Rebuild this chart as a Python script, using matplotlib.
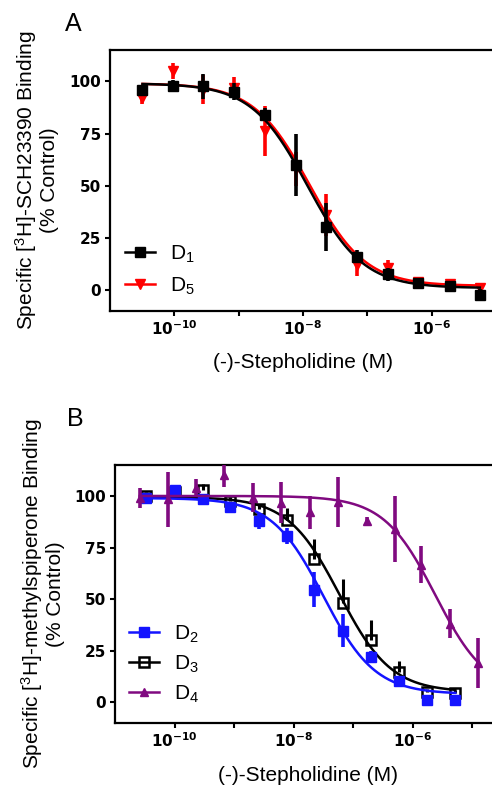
import matplotlib
matplotlib.use("Agg")
import matplotlib.pyplot as plt
import numpy as np
from matplotlib.ticker import FixedLocator, NullFormatter

# ---- data: panel A (D1 / D5, [3H]-SCH23390) ----
conc_a = [3.2e-11, 9.5e-11, 2.8e-10, 8.5e-10, 2.6e-9, 7.7e-9,
          2.3e-8, 6.9e-8, 2.1e-7, 6.2e-7, 1.9e-6, 5.6e-6]
d1_mean = [95.7, 97.7, 97.7, 95.0, 84.0, 60.0, 30.0, 16.0, 7.5, 3.5, 2.0, -2.4]
d1_err = [2.0, 3.0, 6.0, 4.0, 3.0, 15.0, 11.5, 3.0, 3.0, 2.0, 2.0, 3.0]
d5_mean = [92.0, 105.0, 96.0, 97.0, 76.0, 58.0, 36.0, 12.0, 10.5, 4.0, 3.0, 1.0]
d5_err = [3.0, 4.0, 7.0, 5.0, 12.0, 8.0, 10.0, 5.0, 4.0, 2.0, 2.0, 2.0]

# ---- data: panel B (D2 / D3 / D4, [3H]-methylspiperone) ----
conc_b = [3.3e-11, 1.0e-10, 3.0e-10, 8.7e-10, 2.6e-9, 7.8e-9,
          2.2e-8, 6.8e-8, 2.0e-7, 5.9e-7, 1.74e-6, 5.2e-6]
d2_mean = [99.2, 102.8, 98.7, 94.8, 87.8, 80.5, 54.5, 34.6, 22.0, 10.2, 1.2, 1.2]
d2_err = [2.0, 2.0, 2.0, 2.0, 4.0, 4.0, 8.5, 8.0, 3.0, 2.0, 1.5, 1.5]
d3_mean = [100.0, 102.0, 102.8, 97.6, 93.5, 88.3, 69.5, 48.0, 30.0, 14.6, 4.9, 4.4]
d3_err = [2.0, 2.0, 3.0, 2.0, 2.0, 6.0, 9.5, 12.0, 10.0, 5.5, 1.5, 1.5]
conc_d4 = [2.6e-11, 7.8e-11, 2.3e-10, 6.9e-10, 2.1e-9, 6.2e-9, 1.9e-8,
           5.6e-8, 1.7e-7, 5.0e-7, 1.4e-6, 4.2e-6, 1.26e-5]
d4_mean = [99.0, 98.4, 104.0, 110.0, 99.2, 96.8, 92.2, 97.0, 87.8, 84.0, 66.7, 38.2, 19.0]
d4_err = [5.0, 13.4, 4.0, 5.5, 7.0, 10.0, 8.0, 12.0, 2.0, 16.0, 9.0, 7.0, 12.0]

# fitted one-site curves: (top, bottom, logIC50)
fit_d1 = (99.0, 1.0, -7.93)
fit_d5 = (99.0, 2.0, -7.90)
fit_d2 = (99.0, 4.0, -7.50)
fit_d3 = (99.5, 5.0, -7.23)
fit_d4 = (100.0, 4.0, -5.62)

BLUE = "#1414ff"
RED = "#ff0000"
PURPLE = "#800a80"
BLACK = "black"

plt.rcParams.update({
    "font.family": "Liberation Sans",
    "mathtext.fontset": "custom",
    "mathtext.rm": "Liberation Sans",
    "mathtext.it": "Liberation Sans:italic",
    "mathtext.bf": "DejaVu Sans:bold",
    "axes.linewidth": 1.6,
})


def sigmoid(xs, fit):
    top, bottom, logic50 = fit
    return bottom + (top - bottom) / (1 + 10 ** (np.log10(xs) - logic50))


def draw_curve(ax, conc, fit, color, z):
    xs = np.logspace(np.log10(conc[0]), np.log10(conc[-1]), 300)
    ax.plot(xs, sigmoid(xs, fit), color=color, lw=1.8, zorder=z)


def style_axes(ax, xlim, minor):
    ax.set_xscale("log")
    ax.set_xlim(*xlim)
    ax.set_ylim(-10, 115)
    ax.set_yticks([0, 25, 50, 75, 100])
    ax.set_xticks([1e-10, 1e-8, 1e-6])
    ax.set_xticklabels([r"$\mathbf{10^{-10}}$", r"$\mathbf{10^{-8}}$",
                        r"$\mathbf{10^{-6}}$"])
    ax.xaxis.set_minor_locator(FixedLocator(minor))
    ax.xaxis.set_minor_formatter(NullFormatter())
    ax.tick_params(which="both", direction="out", length=3.8, width=1.5,
                   labelsize=11, pad=2.5)
    for tl in ax.get_yticklabels():
        tl.set_fontfamily("DejaVu Sans")
        tl.set_fontweight("bold")


fig = plt.figure(figsize=(4.92, 7.87), dpi=100)
axA = fig.add_axes([110 / 492, 1 - 311 / 787, 386 / 492, 261 / 787])
axB = fig.add_axes([115 / 492, 1 - 723 / 787, 387 / 492, 258 / 787])

# ---------------- Panel A ----------------
draw_curve(axA, conc_a, fit_d5, RED, 2)
axA.errorbar(conc_a, d5_mean, yerr=d5_err, fmt="v", color=RED, ms=7,
             elinewidth=2.6, capsize=0, zorder=3)
draw_curve(axA, conc_a, fit_d1, BLACK, 4)
axA.errorbar(conc_a, d1_mean, yerr=d1_err, fmt="s", color=BLACK, ms=7,
             elinewidth=2.6, capsize=0, zorder=5)
style_axes(axA, (1e-11, 1e-5), [1e-9, 1e-7])
axA.set_ylabel("Specific [$^3$H]-SCH23390 Binding\n(% Control)",
               fontsize=15, linespacing=1.05, va="center")
axA.yaxis.set_label_coords(-0.192, 0.5)
axA.set_xlabel("(-)-Stepholidine (M)", fontsize=15, va="center")
axA.xaxis.set_label_coords(0.5, -0.199)

hA = [plt.Line2D([], [], color=BLACK, marker="s", ms=7, lw=1.8),
      plt.Line2D([], [], color=RED, marker="v", ms=7, lw=1.8)]
axA.legend(hA, ["D$_1$", "D$_5$"], loc="lower left", frameon=False,
           fontsize=15, handlelength=1.45, handletextpad=0.7,
           labelspacing=0.5, borderpad=0, borderaxespad=0,
           bbox_to_anchor=(0.039, 0.055))

fig.text(73 / 492, 1 - 24 / 787, "A", fontsize=18, ha="center", va="center")

# ---------------- Panel B ----------------
draw_curve(axB, conc_b, fit_d3, BLACK, 2)
axB.errorbar(conc_b, d3_mean, yerr=[np.zeros(len(d3_err)), d3_err], fmt="s",
             color=BLACK, mfc="none", mew=1.8, ms=7.5, elinewidth=2.2,
             capsize=0, zorder=3)
draw_curve(axB, conc_b, fit_d2, BLUE, 4)
axB.errorbar(conc_b, d2_mean, yerr=d2_err, fmt="s", color=BLUE, ms=7,
             elinewidth=2.6, capsize=0, zorder=5)
draw_curve(axB, conc_d4, fit_d4, PURPLE, 6)
axB.errorbar(conc_d4, d4_mean, yerr=d4_err, fmt="^", color=PURPLE, ms=6,
             elinewidth=2.6, capsize=0, zorder=7)
style_axes(axB, (1e-11, 10 ** -4.5), [1e-9, 1e-7, 1e-5])
axB.set_ylabel("Specific [$^3$H]-methylspiperone Binding\n(% Control)",
               fontsize=15, linespacing=1.05, va="center")
axB.yaxis.set_label_coords(-0.189, 0.5)
axB.set_xlabel("(-)-Stepholidine (M)", fontsize=15, va="center")
axB.xaxis.set_label_coords(0.5, -0.2016)

hB = [plt.Line2D([], [], color=BLUE, marker="s", ms=7, lw=1.8),
      plt.Line2D([], [], color=BLACK, marker="s", mfc="none", mew=1.8,
                 ms=7.5, lw=1.8),
      plt.Line2D([], [], color=PURPLE, marker="^", ms=6, lw=1.8)]
axB.legend(hB, ["D$_2$", "D$_3$", "D$_4$"], loc="lower left", frameon=False,
           fontsize=15, handlelength=1.45, handletextpad=0.7,
           labelspacing=0.42, borderpad=0, borderaxespad=0,
           bbox_to_anchor=(0.036, 0.07))

fig.text(75 / 492, 1 - 419 / 787, "B", fontsize=18, ha="center", va="center")

fig.savefig("out.png", dpi=100)
